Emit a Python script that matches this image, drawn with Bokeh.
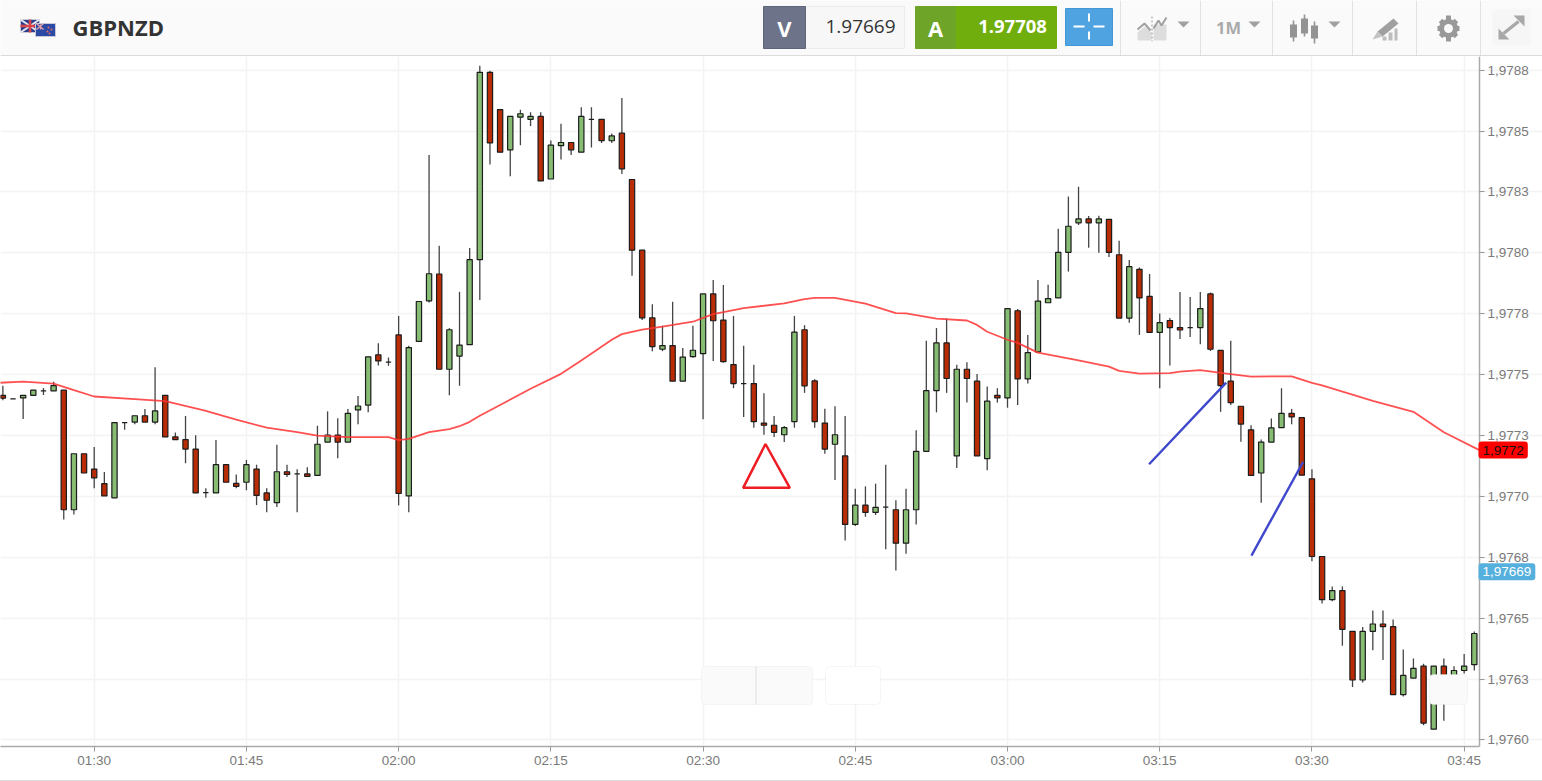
from bokeh.plotting import figure
from bokeh.layouts import column
from bokeh.models import ColumnDataSource, FixedTicker, Label, BoxAnnotation
from bokeh.core.properties import value
from bokeh.embed import file_html
from bokeh.resources import INLINE

symbol = "GBPNZD"
bid_text = "1.97669"
ask_text = "1.97708"
timeframe = "1M"
bid_price = 1.97669
ema_last = 1.97719

open_ = [
    1.977415,1.977400,1.977404,1.977415,1.977433,1.977433,1.977436,1.976945,1.977175,1.977112,
    1.977052,1.976994,1.977303,1.977305,1.977331,1.977305,1.977415,1.977244,1.977233,1.977194,
    1.977015,1.977014,1.977130,1.977053,1.977058,1.977112,1.977014,1.976974,1.977101,1.977092,
    1.977092,1.977086,1.977223,1.977252,1.977223,1.977355,1.977375,1.977581,1.977551,1.977663,
    1.977002,1.977636,1.977803,1.977913,1.977522,1.977576,1.977623,1.977972,1.978741,1.978588,
    1.978423,1.978557,1.978548,1.978560,1.978303,1.978440,1.978453,1.978413,1.978548,1.978548,
    1.978460,1.978491,1.978301,1.978011,1.977733,1.977604,1.977619,1.977473,1.977574,1.977586,
    1.977831,1.977724,1.977541,1.977463,1.977463,1.977301,1.977292,1.977253,1.977307,1.977684,
    1.977474,1.977301,1.977214,1.977166,1.976885,1.976964,1.976934,1.976956,1.976945,1.976808,
    1.976945,1.977185,1.977434,1.977630,1.977166,1.977522,1.977473,1.977155,1.977415,1.977404,
    1.977762,1.977482,1.977593,1.977795,1.977815,1.978002,1.978123,1.978139,1.978123,1.978137,
    1.977992,1.977732,1.977932,1.977821,1.977673,1.977722,1.977693,1.977693,1.977693,1.977831,
    1.977599,1.977473,1.977370,1.977273,1.977096,1.977223,1.977282,1.977341,1.977323,1.977072,
    1.976753,1.976576,1.976613,1.976446,1.976246,1.976446,1.976476,1.976465,1.976186,1.976254,
    1.976303,1.976044,1.976303,1.976257,1.976285,1.976309,
]
high = [
    1.977454,1.977400,1.977415,1.977436,1.977445,1.977471,1.977436,1.977175,1.977175,1.977203,
    1.977100,1.977303,1.977303,1.977331,1.977359,1.977530,1.977415,1.977262,1.977330,1.977251,
    1.977033,1.977231,1.977130,1.977090,1.977149,1.977130,1.977033,1.977212,1.977130,1.977111,
    1.977120,1.977290,1.977349,1.977321,1.977359,1.977412,1.977573,1.977629,1.977570,1.977741,
    1.977618,1.977800,1.978402,1.978029,1.977691,1.977840,1.978020,1.978768,1.978748,1.978588,
    1.978560,1.978587,1.978577,1.978577,1.978461,1.978530,1.978453,1.978598,1.978598,1.978548,
    1.978490,1.978636,1.978301,1.978011,1.977789,1.977701,1.977799,1.977609,1.977701,1.977831,
    1.977888,1.977868,1.977741,1.977618,1.977540,1.977423,1.977330,1.977289,1.977741,1.977703,
    1.977481,1.977360,1.977370,1.977330,1.977031,1.977041,1.977052,1.977130,1.976984,1.977031,
    1.977271,1.977639,1.977691,1.977730,1.977540,1.977551,1.977502,1.977451,1.977444,1.977771,
    1.977769,1.977663,1.977888,1.977869,1.978099,1.978231,1.978271,1.978151,1.978152,1.978137,
    1.978050,1.977970,1.977940,1.977913,1.977751,1.977732,1.977839,1.977819,1.977839,1.977837,
    1.977599,1.977639,1.977370,1.977292,1.977233,1.977320,1.977444,1.977359,1.977323,1.977111,
    1.976753,1.976630,1.976630,1.976446,1.976464,1.976531,1.976531,1.976494,1.976371,1.976334,
    1.976313,1.976303,1.976334,1.976303,1.976353,1.976445,
]
low = [
    1.977395,1.977400,1.977318,1.977415,1.977416,1.977433,1.976905,1.976926,1.977096,1.977033,
    1.977002,1.976994,1.977273,1.977296,1.977305,1.977296,1.977244,1.977233,1.977136,1.977014,
    1.976994,1.977014,1.977058,1.977033,1.977025,1.976964,1.976935,1.976956,1.977079,1.976935,
    1.977082,1.977086,1.977223,1.977156,1.977223,1.977296,1.977345,1.977537,1.977536,1.976963,
    1.976935,1.977636,1.977796,1.977522,1.977415,1.977454,1.977623,1.977806,1.978363,1.978413,
    1.978314,1.978442,1.978521,1.978295,1.978303,1.978383,1.978402,1.978413,1.978432,1.978451,
    1.978451,1.978324,1.977906,1.977724,1.977596,1.977596,1.977473,1.977473,1.977569,1.977317,
    1.977556,1.977549,1.977444,1.977326,1.977282,1.977253,1.977244,1.977223,1.977282,1.977425,
    1.977282,1.977175,1.977067,1.976819,1.976878,1.976916,1.976924,1.976783,1.976696,1.976764,
    1.976885,1.977185,1.977345,1.977425,1.977116,1.977385,1.977166,1.977107,1.977385,1.977364,
    1.977375,1.977463,1.977593,1.977795,1.977815,1.977923,1.978114,1.978021,1.978000,1.977983,
    1.977732,1.977713,1.977663,1.977673,1.977444,1.977537,1.977646,1.977654,1.977625,1.977597,
    1.977347,1.977375,1.977224,1.977086,1.976974,1.977223,1.977282,1.977296,1.977087,1.976734,
    1.976560,1.976569,1.976387,1.976217,1.976236,1.976368,1.976328,1.976186,1.976178,1.976254,
    1.976060,1.976044,1.976079,1.976257,1.976273,1.976285,
]
close = [
    1.977403,1.977400,1.977415,1.977436,1.977433,1.977455,1.976945,1.977175,1.977096,1.977076,
    1.977002,1.977303,1.977303,1.977331,1.977305,1.977351,1.977244,1.977233,1.977194,1.977014,
    1.977015,1.977130,1.977058,1.977041,1.977130,1.977004,1.976984,1.977101,1.977090,1.977092,
    1.977082,1.977214,1.977252,1.977223,1.977341,1.977371,1.977573,1.977556,1.977551,1.977012,
    1.977611,1.977800,1.977914,1.977522,1.977684,1.977621,1.977972,1.978741,1.978451,1.978413,
    1.978560,1.978571,1.978560,1.978295,1.978442,1.978453,1.978423,1.978560,1.978548,1.978461,
    1.978480,1.978345,1.978011,1.977733,1.977615,1.977619,1.977473,1.977572,1.977600,1.977831,
    1.977721,1.977553,1.977463,1.977463,1.977307,1.977292,1.977263,1.977282,1.977674,1.977454,
    1.977307,1.977194,1.977253,1.976885,1.976964,1.976934,1.976955,1.976956,1.976808,1.976945,
    1.977185,1.977434,1.977630,1.977484,1.977522,1.977484,1.977166,1.977391,1.977404,1.977771,
    1.977482,1.977590,1.977802,1.977812,1.978002,1.978109,1.978139,1.978123,1.978139,1.978002,
    1.977732,1.977943,1.977815,1.977673,1.977713,1.977693,1.977683,1.977693,1.977771,1.977604,
    1.977455,1.977385,1.977297,1.977086,1.977223,1.977281,1.977341,1.977326,1.977087,1.976753,
    1.976576,1.976613,1.976454,1.976246,1.976446,1.976476,1.976465,1.976186,1.976265,1.976294,
    1.976069,1.976303,1.976257,1.976285,1.976303,1.976437,
]
first_minute = 81  # 01:21
minutes = [first_minute + i for i in range(len(close))]

ema_minutes = [80,83,86,88,90,94,97,100,101,104,107,110,112,115,119,120,121,123,125,126,127,128,130,133,136,
               138,141,142,144,146,149,151,154,158,160,161,163,166,169,170,173,176,177,178,180,181,183,187,
               190,191,193,196,197,199,201,204,208,210,211,216,220,223,226.5]
ema_values = [1.977465,1.977471,1.977463,1.977436,1.977410,1.977399,1.977391,1.977361,1.977351,1.977315,1.977282,
              1.977264,1.977249,1.977243,1.977243,1.977231,1.977236,1.977264,1.977276,1.977288,1.977306,1.977331,
              1.977375,1.977442,1.977503,1.977558,1.977643,1.977666,1.977685,1.977697,1.977717,1.977748,1.977773,
              1.977792,1.977810,1.977815,1.977815,1.977791,1.977752,1.977751,1.977730,1.977722,1.977704,1.977676,
              1.977643,1.977630,1.977590,1.977558,1.977533,1.977515,1.977504,1.977506,1.977512,1.977518,1.977507,
              1.977492,1.977493,1.977466,1.977456,1.977392,1.977347,1.977263,1.977190]

triangle_minutes = [156.15, 153.95, 158.55]
triangle_prices = [1.977215, 1.977035, 1.977035]
arrow1_minutes = [193.95, 201.55]
arrow1_prices = [1.977132, 1.977467]
arrow2_minutes = [204.04, 209.14]
arrow2_prices = [1.976757, 1.977142]

price_ticks = [1.976,1.97625,1.9765,1.97675,1.977,1.97725,1.9775,1.97775,1.978,1.97825,1.9785,1.97875]
price_labels = ["1,9760","1,9763","1,9765","1,9768","1,9770","1,9773","1,9775","1,9778","1,9780","1,9783","1,9785","1,9788"]
time_ticks = [90,105,120,135,150,165,180,195,210,225]
time_labels = ["01:30","01:45","02:00","02:15","02:30","02:45","03:00","03:15","03:30","03:45"]

GREEN, RED = "#86bd72", "#b92c06"

# ---------- toolbar strip ----------
h = figure(width=1542, height=56, x_range=(0, 1542), y_range=(56, 0), toolbar_location=None,
           output_backend="svg", min_border=0, background_fill_color="#fafafa",
           border_fill_color="#fafafa", outline_line_color=None)
h.axis.visible = False
h.grid.visible = False
sep_x = [1120,1200,1272,1352,1416,1480]
h.segment(sep_x, [0]*6, sep_x, [55]*6, line_color="#e2e2e2", line_width=1)
h.segment([0], [55.5], [1542], [55.5], line_color="#bbbbbb", line_width=1.2)

# flags
h.quad(left=[20], right=[39], top=[19], bottom=[32], fill_color="#2f3f8f", line_color="#c9c9d8")
h.segment([20,39], [19,19], [39,20], [32,32], line_color="#e8e8f0", line_width=2)
h.segment([29.5,20], [19,25.5], [29.5,39], [32,25.5], line_color="#d9464a", line_width=2.5)
h.quad(left=[35], right=[55], top=[23], bottom=[36], fill_color="#2a4aa6", line_color="#c9c9d8")
h.segment([36,36,40], [23,29,24], [43,43,40], [29,23,29], line_color="#e9a3a8", line_width=1.3)
h.scatter([48,51,47,49], [27,29,31,33], size=2, color="#ee6666", line_color=None)
h.text([72], [26.5], text=[symbol], text_font=value("Open Sans"), text_font_style="bold",
       text_font_size="22px", text_color="#333333", text_baseline="middle")

# bid / ask
h.quad(left=[805], right=[904], top=[6], bottom=[48], fill_color="#f7f7f7", line_color="#ececec")
h.quad(left=[763], right=[805], top=[6], bottom=[48], fill_color="#6d7389", line_color="#5d6379")
h.text([784], [27], text=["V"], text_font=value("Open Sans"), text_font_style="bold", text_font_size="22px",
       text_color="#ffffff", text_align="center", text_baseline="middle")
h.text([860], [26], text=[bid_text], text_font=value("Open Sans"), text_font_size="19px",
       text_color="#333333", text_align="center", text_baseline="middle")
h.quad(left=[955], right=[1056], top=[6], bottom=[48], fill_color="#6fae0c", line_color="#6fae0c")
h.quad(left=[915], right=[955], top=[6], bottom=[48], fill_color="#6ea528", line_color="#6ea528")
h.text([935], [27], text=["A"], text_font=value("Open Sans"), text_font_style="bold", text_font_size="22px",
       text_color="#ffffff", text_align="center", text_baseline="middle")
h.text([1012], [26], text=[ask_text], text_font=value("Open Sans"), text_font_style="bold", text_font_size="18.5px",
       text_color="#ffffff", text_align="center", text_baseline="middle")
# crosshair button
h.quad(left=[1065], right=[1112], top=[8], bottom=[45], fill_color="#4fa3e0", line_color="#4497d4")
h.segment([1073,1093,1088.5,1088.5], [26,26,13,31], [1084,1104,1088.5,1088.5], [26,26,21,39],
          line_color="#ffffff", line_width=2)
# area icon
GR = "#a0a0a0"
h.patch([1137,1144,1151,1151,1137], [32,26,32,40,40], fill_color="#dddddd", line_color=None)
h.quad(left=[1153], right=[1166], top=[24], bottom=[40], fill_color="#dddddd", line_color=None)
h.line([1137,1144,1150], [29,23,30], line_color=GR, line_width=2)
h.line([1153,1158,1161,1166], [28,20,25,17], line_color=GR, line_width=2)
h.segment([1151.5], [16], [1151.5], [41], line_color="#999999", line_width=1, line_dash="2 2")
# carets
h.patches([[1177,1189,1183],[1248,1260,1254],[1328,1340,1334]], [[21,21,27]]*3, fill_color=GR, line_color=None)
h.text([1228], [27], text=[timeframe], text_font=value("Open Sans"), text_font_style="bold",
       text_font_size="16.5px", text_color="#aaaaaa", text_align="center", text_baseline="middle")
# candle icon
h.segment([1293,1304,1314], [20,14,21], [1293,1304,1314], [41,36,43], line_color="#949494", line_width=1.6)
h.quad(left=[1289.5,1300.5,1310.5], right=[1296.5,1307.5,1317.5], top=[24,18,25], bottom=[37,33,38], fill_color="#949494", line_color=None)
# pencil icon
h.patch([1377,1393,1398,1382], [31,18,23,36], fill_color=GR, line_color=None)
h.patch([1372,1377,1382], [39,31,36], fill_color="#c4c4c4", line_color=None)
h.quad(left=[1382,1388,1394], right=[1386,1392,1397], top=[36,32,28], bottom=[40,40,40], fill_color="#bdbdbd", line_color=None)
# gear
h.segment([1448,1437,1440,1456], [15,28,20,20], [1448,1459,1456,1440], [41,28,36,36], line_color="#999999", line_width=5)
h.scatter([1448], [28], size=19, color="#999999", line_color=None)
h.scatter([1448], [28], size=9, color="#fafafa", line_color=None)
# expand
h.quad(left=[1492], right=[1530], top=[9], bottom=[45], fill_color="#f6f6f6", line_color=None)
h.segment([1503], [33], [1518], [21], line_color="#a8a8a8", line_width=3.5)
h.patch([1513,1524,1524], [15,15,26], fill_color="#a8a8a8", line_color=None)
h.patch([1498,1498,1509], [28,39,39], fill_color="#a8a8a8", line_color=None)

# ---------- price chart ----------
# Frame covers the full width; the price axis is fixed at the chart's right edge.
X_END = 226.51
p = figure(frame_width=1542, frame_height=689, x_range=(80.767, 232.72), y_range=(1.975973, 1.978806),
           y_axis_location="right", toolbar_location=None, output_backend="svg",
           min_border_left=0, min_border_top=0, min_border_right=0, min_border_bottom=35,
           outline_line_color=None, background_fill_color="#ffffff", border_fill_color="#ffffff",
           styles={"border-bottom": "1px solid #dddddd"})

for ax, ticks, labels in ((p.xaxis[0], time_ticks, time_labels), (p.yaxis[0], price_ticks, price_labels)):
    ax.ticker = FixedTicker(ticks=ticks)
    ax.major_label_overrides = dict(zip(ticks, labels))
    ax.axis_line_color = "#aaaaaa"
    ax.axis_line_width = 1.5
    ax.major_tick_line_color = "#999999"
    ax.major_tick_in = 0
    ax.major_tick_out = 5
    ax.minor_tick_line_color = None
    ax.major_label_text_color = "#7a7a7a"
    ax.major_label_text_font = "Liberation Sans"
    ax.major_label_text_font_size = "13.5px"
    ax.major_label_standoff = 3
p.xaxis[0].major_label_standoff = 1
p.xaxis[0].bounds = (80.767, X_END)
p.yaxis[0].fixed_location = X_END
p.grid.grid_line_color = "#f3f3f3"
p.grid.grid_line_width = 1.5
# hide horizontal grid lines right of the price axis
p.quad(left=[X_END], right=[232.72], top=[1.978806], bottom=[1.975973], fill_color="#ffffff", line_color=None, level="underlay")

src = ColumnDataSource(dict(
    t=minutes, o=open_, h=high, l=low, c=close,
    top=[max(a, b) for a, b in zip(open_, close)],
    bot=[min(a, b) for a, b in zip(open_, close)],
    col=[GREEN if c >= o else RED for o, c in zip(open_, close)],
))
p.segment("t", "h", "t", "l", source=src, line_color="#444444", line_width=1.3)
p.vbar(x="t", width=0.52, top="top", bottom="bot", source=src, fill_color="col", line_color="#1c1c1c", line_width=1.2)
p.line(ema_minutes, ema_values, line_color="#ff3333", line_width=1.8, line_alpha=0.85)
p.patch(triangle_minutes, triangle_prices, fill_color=None, line_color="#ee1c25", line_width=2.5)
p.line(arrow1_minutes, arrow1_prices, line_color="#3f48cc", line_width=2.4)
p.line(arrow2_minutes, arrow2_prices, line_color="#3f48cc", line_width=2.4)

# overlay buttons (screen y counts up from the bottom of the frame)
Y_BOTTOM = 744
for l_, r_, t_, b_, fc in ((701, 812, 664, 702, "#fafafa"), (825, 880, 664, 702, "#ffffff"), (1429, 1467, 672, 702, "#fafafa")):
    p.add_layout(BoxAnnotation(left=l_, right=r_, top=Y_BOTTOM - t_, bottom=Y_BOTTOM - b_, left_units="screen", right_units="screen",
                               top_units="screen", bottom_units="screen", fill_color=fc, fill_alpha=1,
                               line_color="#e2e2e2", line_width=1, border_radius=4, level="overlay"))
p.add_layout(BoxAnnotation(left=755, right=756, top=Y_BOTTOM - 664, bottom=Y_BOTTOM - 702, left_units="screen", right_units="screen",
                           top_units="screen", bottom_units="screen", fill_color="#dddddd", fill_alpha=1,
                           line_color=None, level="overlay"))

# price tags on the axis
p.add_layout(Label(x=1478, y=ema_last, x_units="screen", y_units="data", text="1,9772", text_baseline="middle",
                   text_font="Liberation Sans", text_font_size="13.5px", text_color="#111111",
                   background_fill_color="#ff0000", border_radius=3, padding=(4, 4)))
p.add_layout(Label(x=1478, y=bid_price, x_units="screen", y_units="data", text="1,97669", text_baseline="middle",
                   text_font="Liberation Sans", text_font_size="13.5px", text_color="#ffffff",
                   background_fill_color="#56b0dd", border_radius=3, padding=(4, 4)))

root = column(h, p, spacing=0)
open("out.html", "w").write(file_html(root, INLINE))
